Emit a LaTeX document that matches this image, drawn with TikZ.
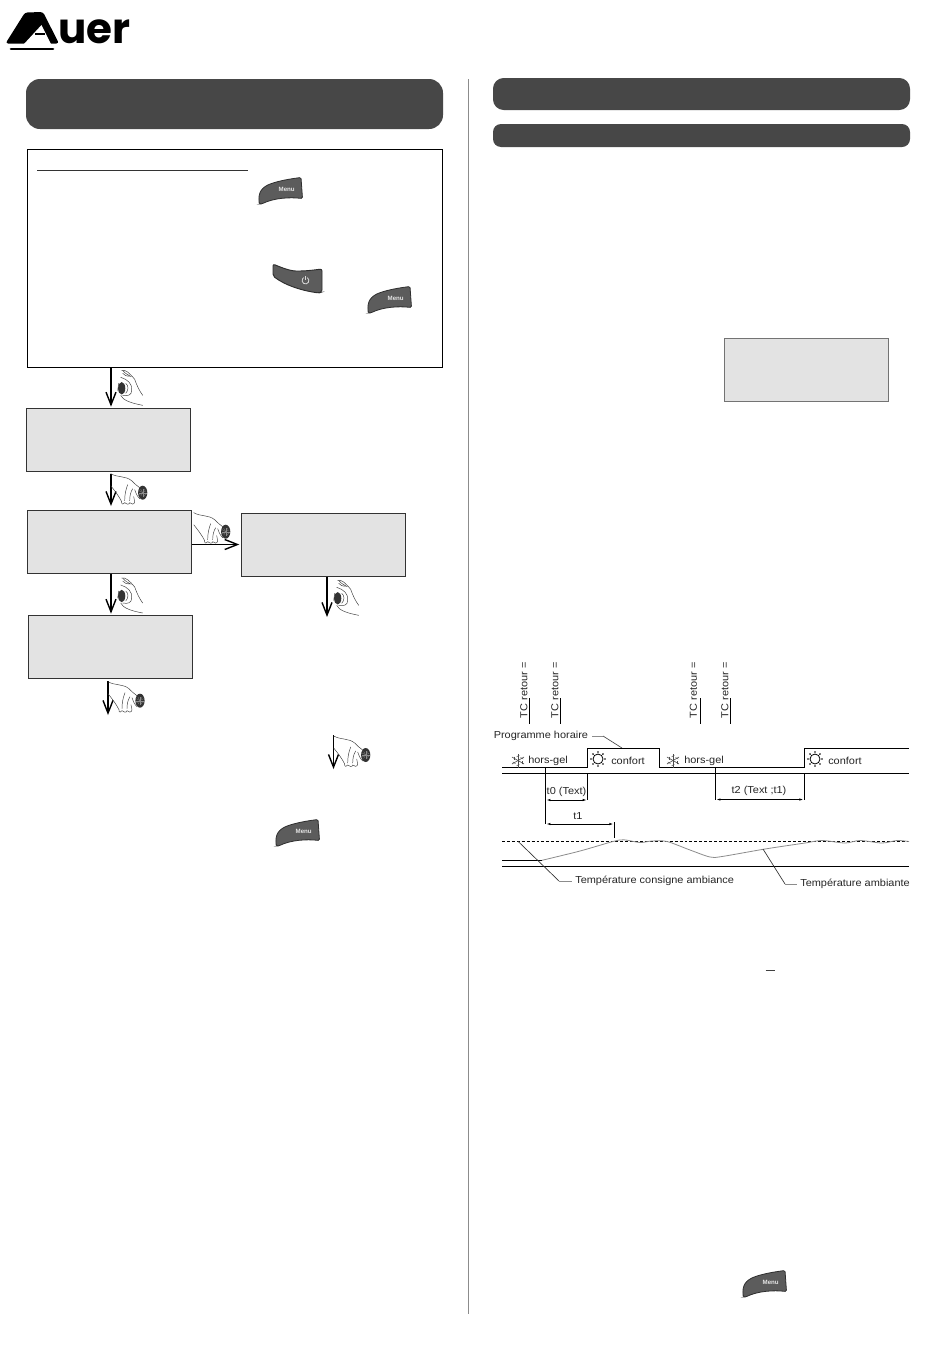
\documentclass[tikz,border=0pt]{standalone}
\usepackage{fontspec}
\setmainfont{Liberation Sans}
\newfontfamily\logofont{Poppins}
\newfontfamily\labfont[FakeStretch=1.08]{Liberation Sans}
\usetikzlibrary{arrows.meta}
\definecolor{panel}{HTML}{474747}
\definecolor{pale}{HTML}{E3E3E3}
\definecolor{btn}{HTML}{5C5C5C}
\definecolor{btnedge}{HTML}{2E2E2E}
\definecolor{lead}{HTML}{8C8C8C}
\tikzset{
  header/.style={fill=panel,draw=none,rounded corners=10.5pt},
  lcd/.style={fill=pale,draw=black!80,line width=0.75pt,inner sep=0pt,minimum width=122.6pt,minimum height=47pt,anchor=north west},
  flow/.style={draw=black,line width=1.05pt,-{Straight Barb[length=9.5pt,width=7.5pt,line width=1.05pt]}},
  handline/.style={draw=black!75,line width=0.35pt,line cap=round},
  chart/.style={draw=black,line width=0.75pt},
  thin lead/.style={draw=lead,line width=0.6pt},
  dimline/.style={draw=black,line width=0.75pt,{Latex[length=3.5pt,width=1.8pt]}-{Latex[length=3.5pt,width=1.8pt]}},
  lab/.style={font=\labfont\fontsize{7.6pt}{8pt}\selectfont,text=black!85,inner sep=0pt},
  menubtn/.pic={
    \path[fill=btn,draw=btnedge,line width=0.6pt,rounded corners=1pt]
      (0.3,26) .. controls (-1,15) and (2,9) .. (14,5) .. controls (24,2) and (34,0.5) .. (42,-0.5)
      -- (43.5,20.5) .. controls (30,19) and (15,20) .. (2.5,26) -- cycle;
    \node[font=\fontsize{4.6pt}{5pt}\selectfont\bfseries,text=white!90!black,inner sep=0pt] (-t) at (27.7,11) {Menu};
  },
  powerbtn/.pic={
    \path[fill=btn,draw=btnedge,line width=0.7pt,rounded corners=1.5pt]
      (1,0) .. controls (8,3) and (18,7) .. (26,7) .. controls (34,7) and (42,6) .. (50,5)
      -- (50,28) -- (47,29) .. controls (32,27) and (14,22) .. (1,12) -- cycle;
    \draw[white!85!black,line width=0.6pt] (35.2,13.6) arc[start angle=-60,end angle=240,radius=3.4];
    \draw[white!85!black,line width=0.6pt] (33.5,12.3) -- (33.5,16);
  },
  turnhand/.pic={
    \fill[black!80] (0,0) ellipse[x radius=3.6,y radius=6.2];
    \draw[handline] (0,-18) .. controls (4,-19) and (8,-15) .. (13,-9) .. controls (15,-3) and (18,3) .. (21,7);
    \draw[handline] (1,-18) .. controls (4,-14) and (6,-14) .. (9,-12) .. controls (5,-12) and (2,-13) .. (1,-15);
    \draw[handline] (-1,-11) .. controls (6,-9) and (11,-4) .. (10,2) .. controls (10,7) and (6,8) .. (1,7);
    \draw[handline] (4,-5) .. controls (7,-3) and (7,2) .. (4,5);
    \draw[handline] (-1,7) .. controls (1,12) and (10,15) .. (21,17);
    \draw[handline] (-3,-5) -- (-4,2);
  },
  presshand/.pic={
    \fill[black!80] (0,0) ellipse[x radius=4.6,y radius=7];
    \foreach \a in {0,30,...,330}{\draw[black!45,line width=0.2pt] (0,0) -- ++(\a:4);}
    \draw[handline] (-32,-19) .. controls (-25,-15) and (-17,-17) .. (-11,-12) .. controls (-8,-9) and (-6,-7) .. (-3,-5);
    \draw[handline] (-32,-7) .. controls (-28,-2) and (-24,3) .. (-21,9);
    \draw[handline] (-21,9) .. controls (-22,12) and (-18,12) .. (-18,10) .. controls (-17,12) and (-13,12) .. (-13,10)
       .. controls (-12,12) and (-8,12) .. (-8,9) -- (-9,4);
    \draw[handline] (-15,-8) .. controls (-17,-3) and (-18,2) .. (-18,8);
    \draw[handline] (-10,-4) .. controls (-12,-1) and (-13,3) .. (-13,8);
    \draw[handline] (-8,-3) .. controls (-7,0) and (-6,3) .. (-3,6);
  },
  sunicon/.pic={
    \draw[black,line width=0.6pt] (0,0) circle[radius=5];
    \foreach \a in {0,45,...,315}{\fill[black] (\a:7) circle[radius=0.9];}
  },
  flakeicon/.pic={
    \foreach \a in {90,30,150}{\draw[black!70,line width=0.45pt] (\a:7) -- (\a+180:7);}
    \foreach \a in {30,90,...,330}{\draw[black!70,line width=0.35pt] (\a:4.5) ++(\a+60:1.6) -- ++(\a+240:3.2);}
  }
}
\begin{document}
\begin{tikzpicture}[x=0.75pt,y=-0.75pt]
\useasboundingbox (0,0) rectangle (950,1360);
\fill[white] (0,0) rectangle (950,1360);

% logo
\fill[black,rounded corners=2pt] (5.5,43.5) -- (25,12.5) -- (43,12) -- (59,43.5) -- cycle;
\fill[white] (41.5,25) -- (24,44) -- (51,44) -- cycle;
\fill[black] (35,33.4) rectangle (45,35.4);
\draw[black,line width=2pt,line cap=round] (11,49) -- (53,49);
\node[anchor=base west,inner sep=0pt,font=\logofont\bfseries\fontsize{31.5pt}{32pt}\selectfont] (logotext) at (58,43) {uer};

% page rule
\draw[draw=black!45,line width=0.75pt] (468,79) -- (468,1314);

% headers
\path[header] (26,79) rectangle (443,129);
\path[header,rounded corners=8pt] (493,78) rectangle (910,110);
\path[header,rounded corners=6pt] (493,124) rectangle (910,147);

% flow boxes
\node[draw=black,line width=1pt,fill=white,inner sep=0pt,minimum width=311.25pt,minimum height=163.5pt,anchor=north west] (main) at (27,149) {};
\draw[black!80,line width=0.75pt] (37,170.5) -- (248,170.5);
\node[lcd] (box1) at (26.3,408) {};
\node[lcd] (box2) at (27.3,510) {};
\node[lcd] (box3) at (241.3,513) {};
\node[lcd] (box4) at (28.3,615) {};
\node[lcd,draw=black!55] (box5) at (724.3,338) {};

% free ends
\coordinate (ax1) at (111,0);
\coordinate (ay1) at (0,544.5);
\coordinate (end3) at (327,617);
\coordinate (start4) at (108,681);
\coordinate (end4) at (108,715);
\coordinate (start5) at (333.5,735);
\coordinate (end5) at (333.5,769);

% connectors
\draw[flow,shorten >=1pt] (main.south -| ax1) -- (box1.north -| ax1);
\draw[flow,shorten <=2pt,shorten >=3pt] (box1.south -| ax1) -- (box2.north -| ax1);
\draw[flow,shorten >=1pt] (box2.south -| ax1) -- (box4.north -| ax1);
\draw[flow,shorten >=1.5pt] (box2.east |- ay1) -- (box3.west |- ay1);
\draw[flow] (box3.south -| end3) -- (end3);
\draw[flow] (start4) -- (end4);
\draw[flow] (start5) -- (end5);

% hands
\pic at (121.7,388.3) {turnhand};
\pic at (142.7,492.7) {presshand};
\pic at (225.7,531.7) {presshand};
\pic at (121.7,596) {turnhand};
\pic at (337.7,598.3) {turnhand};
\pic at (140,700.7) {presshand};
\pic at (365.7,755) {presshand};

% buttons
\pic (m1) at (259,178) {menubtn};
\pic (p1) at (272,264) {powerbtn};
\pic (m2) at (368,287) {menubtn};
\pic (m3) at (276,820) {menubtn};
\pic (m4) at (743,1271) {menubtn};

\draw[black!75,line width=0.75pt] (765.5,970.5) -- (775,970.5);

% timing diagram: return labels
\foreach \n/\tx/\lx in {a/524/529.3,b/555/560.3,c/693.5/700,d/725/730.5}{
  \node[lab,rotate=90,anchor=west] (tc\n) at (\tx,718.5) {TC retour =};
  \draw[black,line width=0.6pt] (\lx,698) -- (\lx,723.5);
}
\node[lab,anchor=west] (prog) at (493.5,735.5) {Programme horaire};
\coordinate (progbend) at (603,736);
\coordinate (progend) at (622,748);
\draw[thin lead] (592,736) -- (progbend);
\draw[black!70,line width=0.5pt] (progbend) -- (progend);

\draw[chart] (502,767.3) -- (587.3,767.3) -- (587.3,748) -- (659.3,748) -- (659.3,767.3) -- (804,767.3) -- (804,748) -- (909,748);
\draw[chart] (502,773.3) -- (909,773.3);

\pic at (518,760.5) {flakeicon};
\pic at (673,760.5) {flakeicon};
\pic at (598,759) {sunicon};
\pic at (815,759) {sunicon};
\node[lab,anchor=west] (hg1) at (528,760.5) {hors-gel};
\node[lab,anchor=west] (cf1) at (611,760.5) {confort};
\node[lab,anchor=west] (hg2) at (684,760.5) {hors-gel};
\node[lab,anchor=west] (cf2) at (828,760.5) {confort};

\draw[chart] (545.8,767.3) -- (545.8,824);
\draw[chart] (587.3,773.3) -- (587.3,800);
\draw[chart] (715.8,767.3) -- (715.8,800);
\draw[chart] (804,773.3) -- (804,800);
\draw[chart] (614,822) -- (614,838);
\draw[dimline] (545.8,800) -- (587.3,800);
\draw[dimline] (715.8,799.5) -- (804,799.5);
\draw[dimline] (545.8,824) -- (614,824);
\node[lab] (t0) at (566.5,792) {t0 (Text)};
\node[lab] (t2) at (759,791) {t2 (Text ;t1)};
\node[lab] (t1) at (578,816) {t1};

\draw[draw=black,line width=0.7pt,dash pattern=on 2.2pt off 1.5pt] (502,841.3) -- (909,841.3);
\draw[chart] (502,860.3) -- (542,860.3);
\draw[thin lead] plot[smooth,tension=0.5] coordinates {(542,860.3) (580,851) (613,841.5) (624,839.8) (640,842.5) (652,841) (667,841.5) (690,850) (710,857) (722,856.5) (765,849) (805,843) (822,840.5) (845,843) (860,840.5) (882,843) (897,840.5) (909,841.5)};
\draw[chart] (502,866.8) -- (909,866.8);

\coordinate (lead1a) at (518,841.3);
\coordinate (lead1b) at (559,881);
\coordinate (lead1c) at (572,881);
\draw[black!80,line width=0.5pt] (lead1a) -- (lead1b);
\draw[thin lead] (lead1b) -- (lead1c);
\node[lab,anchor=west] (tca) at (575,881.3) {Température consigne ambiance};
\coordinate (lead2a) at (763,849);
\coordinate (lead2b) at (785,884);
\coordinate (lead2c) at (797,884);
\draw[black!80,line width=0.5pt] (lead2a) -- (lead2b);
\draw[thin lead] (lead2b) -- (lead2c);
\node[lab,anchor=west] (ta) at (800,884.3) {Température ambiante};
\end{tikzpicture}
\end{document}
